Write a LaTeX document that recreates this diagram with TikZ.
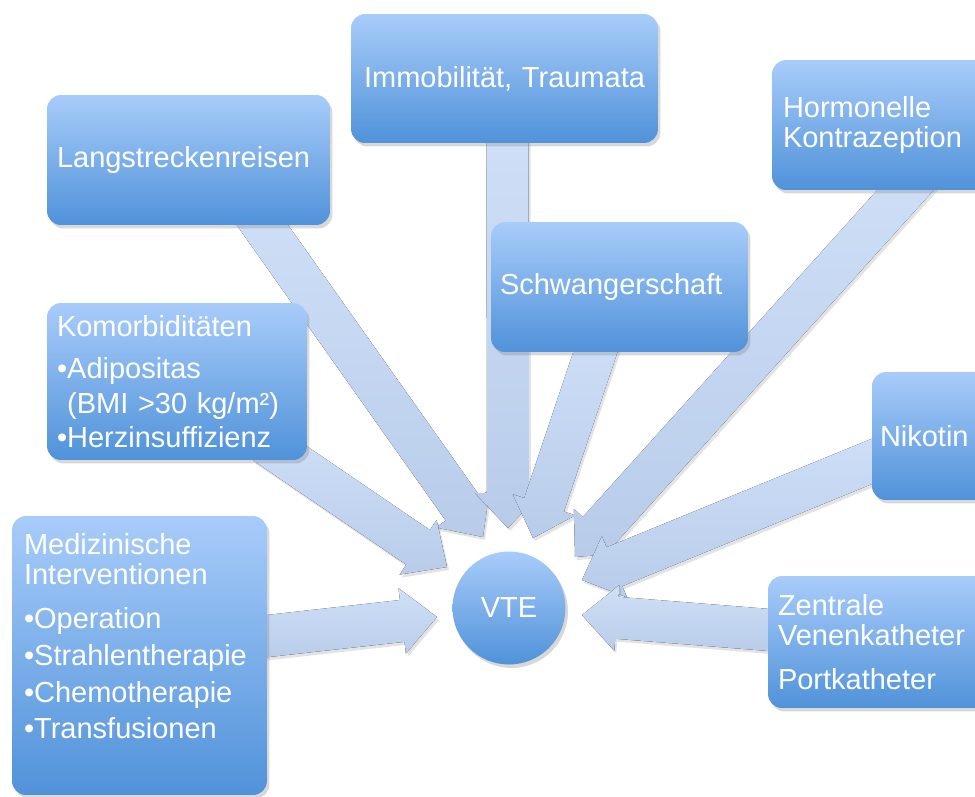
\documentclass[tikz,border=0pt]{standalone}
\usepackage{fontspec}
\setmainfont{Liberation Sans}
\usetikzlibrary{positioning, calc, shadows}
\definecolor{boxtop}{RGB}{168,204,250}
\definecolor{boxbot}{RGB}{80,146,217}
\definecolor{flowtop}{RGB}{207,223,247}
\definecolor{flowbot}{RGB}{184,204,234}
\pgfdeclarelayer{back}
\pgfsetlayers{back,main}
\tikzset{
    factor/.style={rounded corners=0.28cm, top color=boxtop, bottom color=boxbot, text=white,
        drop shadow={opacity=0.3, shadow xshift=0.05cm, shadow yshift=-0.07cm},
        inner ysep=0pt, font=\fontsize{16.5}{17}\selectfont}, % the blue boxes
    flow/.style={top color=flowtop, bottom color=flowbot,
        drop shadow={opacity=0.22, shadow xshift=0.04cm, shadow yshift=-0.06cm}} % the broad arrows
}
% broad arrow from #1 to the tip #2
\newcommand\fatarrow[2]{%
    \coordinate (fa-s) at (#1);
    \coordinate (fa-t) at (#2);
    \coordinate (fa-b) at ($(fa-t)!0.7cm!(fa-s)$);
    \fill[flow] ($(fa-s)!0.42cm!90:(fa-t)$) -- ($(fa-b)!0.42cm!90:(fa-t)$)
        -- ($(fa-b)!0.66cm!90:(fa-t)$) -- (fa-t) -- ($(fa-b)!0.66cm!-90:(fa-t)$)
        -- ($(fa-b)!0.42cm!-90:(fa-t)$) -- ($(fa-s)!0.42cm!-90:(fa-t)$) -- cycle;
}

\begin{document}
\begin{tikzpicture}[x=0.02cm, y=-0.02cm]

        \useasboundingbox (0,0) rectangle (975,796);

        \node[factor, minimum width=5.66cm, minimum height=2.6cm, inner xsep=0.2cm, text width=5.26cm, align=left] (reise) at (188.5,160) {Langstreckenreisen};
        \node[factor, minimum width=6.14cm, minimum height=2.58cm, inner xsep=0.2cm, text width=5.74cm, align=center] (immo) at (504.5,78.5) {Immobilität, Traumata};
        \node[factor, minimum width=4.36cm, minimum height=2.6cm, inner xsep=0.22cm, text width=3.92cm, align=left] (horm) at (881,125) {Hormonelle\\Kontrazeption};
        \node[factor, minimum width=5.14cm, minimum height=2.6cm, inner xsep=0.18cm, text width=4.78cm, align=left] (schw) at (619.5,287) {Schwangerschaft};
        \node[factor, minimum width=5.2cm, minimum height=3.14cm, inner xsep=0.2cm, text width=4.8cm, align=left] (komo) at (177,381.5)
            {Komorbiditäten\\[7pt]•Adipositas\\[3pt]\phantom{•}(BMI >30 kg/m²)\\[2pt]•Herzinsuffizienz};
        \node[factor, minimum width=2.36cm, minimum height=2.56cm, inner xsep=0.16cm, text width=2.04cm, align=left] (niko) at (931,436) {Nikotin};
        \node[factor, minimum width=5.1cm, minimum height=5.58cm, inner xsep=0.24cm, text width=4.62cm, align=left] (medi) at (139.5,655.5)
            {Medizinische\\Interventionen\\[8pt]•Operation\\[4pt]•Strahlentherapie\\[4pt]•Chemotherapie\\[4pt]•Transfusionen\\[5pt]\mbox{}};
        \node[factor, minimum width=4.44cm, minimum height=2.64cm, inner xsep=0.2cm, text width=4.04cm, align=left] (zent) at (879,642)
            {Zentrale\\Venenkatheter\\[8pt]Portkatheter};
        \node[factor, circle, minimum size=2.26cm, inner sep=0pt] (vte) at (509,608) {VTE};

        \begin{pgfonlayer}{back}
        \fill[white] (0,0) rectangle (975,796);
        \fatarrow{$(reise.south)+(60,-20)$}{$(vte)+(-26,-71)$}
        \fatarrow{$(immo.south)+(3,-23)$}{$(vte)+(-1,-80)$}
        \fatarrow{$(schw.south)+(-16.5,-23)$}{$(vte)+(24,-70)$}
        \fatarrow{$(horm.south)+(44,-22)$}{$(vte)+(66,-51)$}
        \fatarrow{$(niko.west)+(28,14)$}{$(vte)+(73,-28)$}
        \fatarrow{$(zent.west)+(27,-10)$}{$(vte)+(73,7)$}
        \fatarrow{$(medi.east)+(-22,-17)$}{$(vte)+(-72,9)$}
        \fatarrow{$(komo.south east)+(-42,-17)$}{$(vte)+(-62,-41)$}
        \end{pgfonlayer}

\end{tikzpicture}
\end{document}
